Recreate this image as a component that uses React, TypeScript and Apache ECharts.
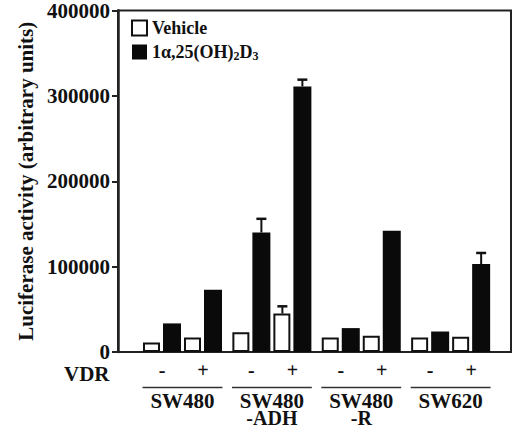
import React, { useEffect, useRef } from "react";
import * as echarts from "echarts";

const groups = ["SW480", "SW480\n-ADH", "SW480\n-R", "SW620"];
const vdrLabels = ["-", "+", "-", "+", "-", "+", "-", "+"];
const vehicle = [11000, 17000, 23000, 45000, 17000, 19000, 17000, 18000];
const calcitriol = [33500, 73000, 140000, 311000, 28000, 142000, 24000, 103000];
const vehicleErr = [0, 0, 0, 8500, 0, 0, 0, 0];
const calcitriolErr = [0, 0, 16000, 8000, 0, 0, 0, 13000];
const yTicks = [0, 100000, 200000, 300000, 400000];

const FONT = "'Liberation Serif', 'Times New Roman', serif";
const GROUP_STEP = 2.18;
const BAR_OFF = 0.244;

function catPos(i: number) {
  return Math.floor(i / 2) * GROUP_STEP + (i % 2);
}

export default function App() {
  const ref = useRef<HTMLDivElement>(null);
  useEffect(() => {
    if (!ref.current) return;
    const chart = echarts.init(ref.current, null, { renderer: "svg" });
    const vehData = vehicle.map((v, i) => [catPos(i) - BAR_OFF, v]);
    const calData = calcitriol.map((v, i) => [catPos(i) + BAR_OFF, v]);
    const errData: number[][] = [];
    vehicle.forEach((v, i) => {
      if (vehicleErr[i]) errData.push([catPos(i) - BAR_OFF, v, vehicleErr[i]]);
    });
    calcitriol.forEach((v, i) => {
      if (calcitriolErr[i]) errData.push([catPos(i) + BAR_OFF, v, calcitriolErr[i]]);
    });
    const text = "#111";
    chart.setOption({
      animation: false,
      textStyle: { fontFamily: FONT },
      grid: {
        left: 118,
        right: 5,
        top: 10,
        bottom: 73,
        show: true,
        borderColor: "#222",
        borderWidth: 2,
        backgroundColor: "transparent",
      },
      legend: {
        orient: "vertical",
        left: 131,
        top: 19,
        padding: 0,
        icon: "rect",
        itemWidth: 15,
        itemHeight: 15,
        itemGap: 6,
        selectedMode: false,
        formatter: (name: string) =>
          name === "Vehicle" ? "{a|Vehicle}" : "{a|1α,25(OH)}{s|2}{a|D}{s|3}",
        textStyle: {
          rich: {
            a: { fontSize: 18, fontWeight: "bold", fontFamily: FONT, color: text },
            s: {
              fontSize: 12,
              fontWeight: "bold",
              fontFamily: FONT,
              color: text,
              verticalAlign: "bottom",
              padding: [8, 0, 0, 0],
            },
          },
        },
        data: ["Vehicle", "1α,25(OH)2D3"],
      },
      xAxis: {
        type: "value",
        min: -1.073,
        max: 8.512,
        axisLine: { show: false },
        axisTick: { show: false },
        axisLabel: { show: false },
        splitLine: { show: false },
      },
      yAxis: {
        type: "value",
        min: 0,
        max: 400000,
        interval: 100000,
        name: "Luciferase activity (arbitrary units)",
        nameLocation: "middle",
        nameGap: 81,
        nameTextStyle: { fontSize: 21, fontWeight: "bold", color: text, fontFamily: FONT },
        axisLine: { show: true, onZero: false, lineStyle: { color: "#222", width: 2.5 } },
        axisTick: { show: true, length: 6, lineStyle: { color: "#222", width: 2 } },
        axisLabel: {
          margin: 8,
          fontSize: 21,
          fontWeight: "bold",
          color: text,
          fontFamily: FONT,
          formatter: (v: number) => (yTicks.includes(v) ? String(v) : ""),
        },
        splitLine: { show: false },
      },
      graphic: [
        {
          type: "text",
          left: 64,
          top: 363,
          style: { text: "VDR", fontSize: 21, fontWeight: "bold", fill: text, fontFamily: FONT },
        },
      ],
      series: [
        {
          name: "Vehicle",
          type: "bar",
          barWidth: 17,
          barGap: "-100%",
          itemStyle: { color: "#fff", borderColor: "#111", borderWidth: 2 },
          data: vehData,
        },
        {
          name: "1α,25(OH)2D3",
          type: "bar",
          barWidth: 18,
          barGap: "-100%",
          itemStyle: { color: "#0a0a0a" },
          data: calData,
        },
        {
          type: "custom",
          silent: true,
          renderItem: (params: any, api: any) => {
            const x = api.value(0);
            const y = api.value(1);
            const e = api.value(2);
            const p1 = api.coord([x, y]);
            const p2 = api.coord([x, y + e]);
            return {
              type: "group",
              children: [
                {
                  type: "line",
                  shape: { x1: p1[0], y1: p1[1], x2: p2[0], y2: p2[1] },
                  style: { stroke: "#111", lineWidth: 2 },
                },
                {
                  type: "line",
                  shape: { x1: p2[0] - 5, y1: p2[1], x2: p2[0] + 5, y2: p2[1] },
                  style: { stroke: "#111", lineWidth: 2.5 },
                },
              ],
            };
          },
          data: errData,
          z: 5,
        },
        {
          type: "custom",
          silent: true,
          renderItem: (params: any, api: any) => {
            const i = params.dataIndex;
            const p = api.coord([api.value(0), 0]);
            return {
              type: "text",
              x: p[0],
              y: p[1] + 18,
              style: {
                text: vdrLabels[i],
                fontSize: 20,
                fontWeight: "bold",
                fill: text,
                fontFamily: FONT,
                align: "center",
                verticalAlign: "middle",
              },
            };
          },
          data: vdrLabels.map((_, i) => [catPos(i)]),
        },
        {
          type: "custom",
          silent: true,
          renderItem: (params: any, api: any) => {
            const g = params.dataIndex;
            const a = api.coord([api.value(0), 0]);
            const b = api.coord([api.value(1), 0]);
            const lines = groups[g].split("\n");
            return {
              type: "group",
              children: [
                {
                  type: "line",
                  shape: { x1: a[0], y1: a[1] + 35.5, x2: b[0], y2: b[1] + 35.5 },
                  style: { stroke: "#333", lineWidth: 1.5 },
                },
                ...lines.map((t, k) => ({
                  type: "text",
                  x: (a[0] + b[0]) / 2,
                  y: a[1] + 49 + k * 17,
                  style: {
                    text: t,
                    fontSize: k === 0 ? 21 : 20,
                    fontWeight: "bold",
                    fill: text,
                    fontFamily: FONT,
                    align: "center",
                    verticalAlign: "middle",
                  },
                })),
              ],
            };
          },
          data: groups.map((_, g) => [
            catPos(g * 2) - BAR_OFF - 0.23,
            catPos(g * 2 + 1) + BAR_OFF + 0.23,
          ]),
        },
      ],
    });
    return () => chart.dispose();
  }, []);
  return (
    <div
      ref={ref}
      style={{ position: "absolute", left: 0, top: 0, width: 516, height: 425 }}
    />
  );
}
